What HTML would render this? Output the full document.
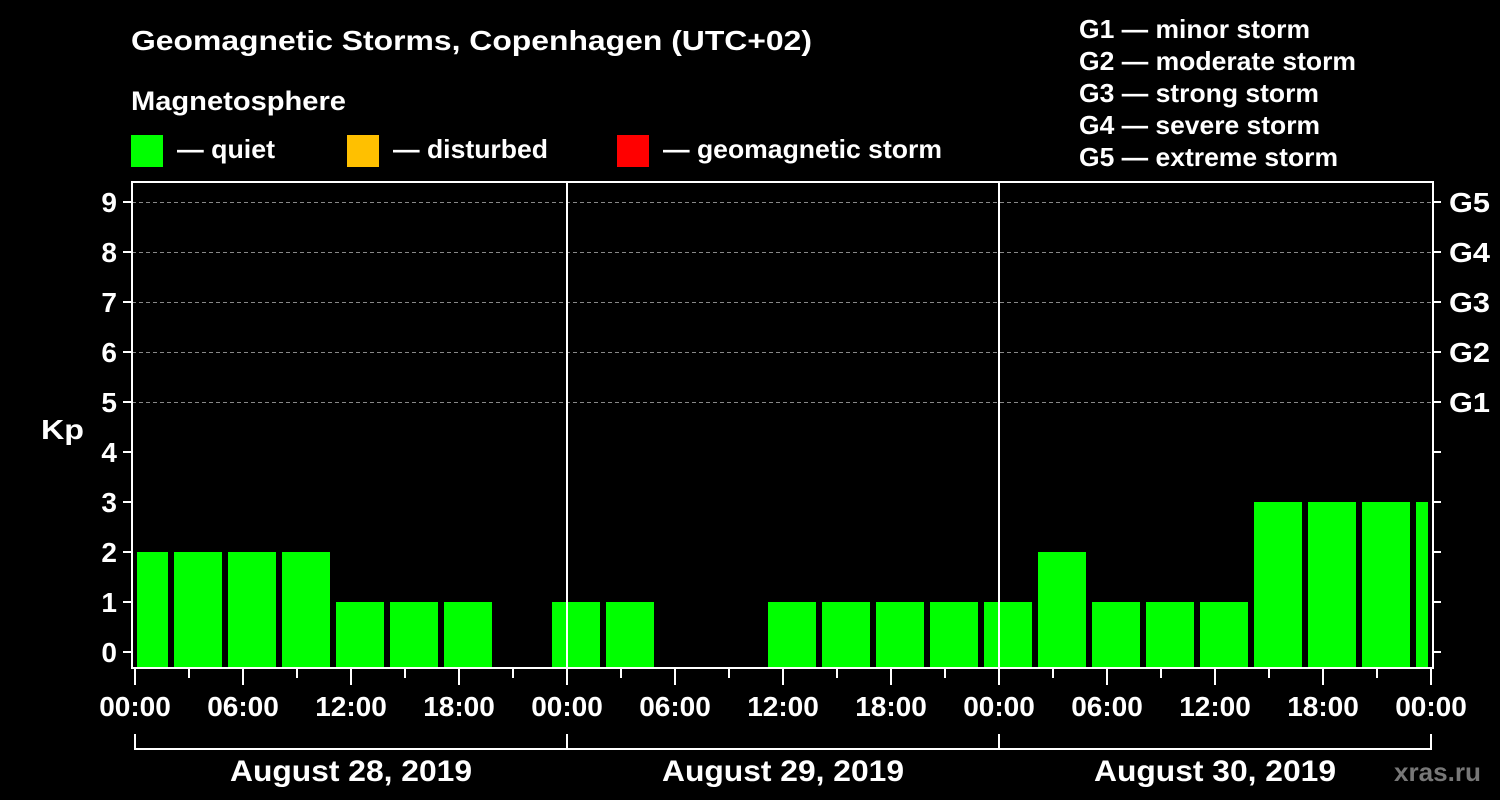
<!DOCTYPE html>
<html><head><meta charset="utf-8"><style>html,body{margin:0;padding:0;background:#000}svg{display:block}</style></head><body>
<svg width="1500" height="800" xmlns="http://www.w3.org/2000/svg" font-family="Liberation Sans, sans-serif" font-weight="bold" fill="#fff">
<rect width="1500" height="800" fill="#000"/>
<text x="131" y="50" font-size="28" textLength="681" lengthAdjust="spacingAndGlyphs">Geomagnetic Storms, Copenhagen (UTC+02)</text>
<text x="131" y="110" font-size="27" textLength="215" lengthAdjust="spacingAndGlyphs">Magnetosphere</text>
<rect x="131" y="135" width="32" height="32" fill="#00ff00"/><text x="177" y="158" font-size="26" textLength="98" lengthAdjust="spacingAndGlyphs">— quiet</text>
<rect x="347" y="135" width="32" height="32" fill="#ffc000"/><text x="393" y="158" font-size="26" textLength="155" lengthAdjust="spacingAndGlyphs">— disturbed</text>
<rect x="617" y="135" width="32" height="32" fill="#ff0000"/><text x="663" y="158" font-size="26" textLength="279" lengthAdjust="spacingAndGlyphs">— geomagnetic storm</text>
<g font-size="26">
<text x="1079" y="38" textLength="231" lengthAdjust="spacingAndGlyphs">G1 — minor storm</text>
<text x="1079" y="70" textLength="277" lengthAdjust="spacingAndGlyphs">G2 — moderate storm</text>
<text x="1079" y="102" textLength="240" lengthAdjust="spacingAndGlyphs">G3 — strong storm</text>
<text x="1079" y="134" textLength="241" lengthAdjust="spacingAndGlyphs">G4 — severe storm</text>
<text x="1079" y="166" textLength="259" lengthAdjust="spacingAndGlyphs">G5 — extreme storm</text>
</g>
<g stroke="#888" stroke-dasharray="4,3" stroke-width="1">
<line x1="132" x2="1432" y1="202.5" y2="202.5"/><line x1="132" x2="1432" y1="252.5" y2="252.5"/><line x1="132" x2="1432" y1="302.5" y2="302.5"/><line x1="132" x2="1432" y1="352.5" y2="352.5"/><line x1="132" x2="1432" y1="402.5" y2="402.5"/>
</g>
<g fill="#00ff00">
<rect x="137" y="552" width="31" height="115"/>
<rect x="174" y="552" width="48" height="115"/>
<rect x="228" y="552" width="48" height="115"/>
<rect x="282" y="552" width="48" height="115"/>
<rect x="336" y="602" width="48" height="65"/>
<rect x="390" y="602" width="48" height="65"/>
<rect x="444" y="602" width="48" height="65"/>
<rect x="552" y="602" width="48" height="65"/>
<rect x="606" y="602" width="48" height="65"/>
<rect x="768" y="602" width="48" height="65"/>
<rect x="822" y="602" width="48" height="65"/>
<rect x="876" y="602" width="48" height="65"/>
<rect x="930" y="602" width="48" height="65"/>
<rect x="984" y="602" width="48" height="65"/>
<rect x="1038" y="552" width="48" height="115"/>
<rect x="1092" y="602" width="48" height="65"/>
<rect x="1146" y="602" width="48" height="65"/>
<rect x="1200" y="602" width="48" height="65"/>
<rect x="1254" y="502" width="48" height="165"/>
<rect x="1308" y="502" width="48" height="165"/>
<rect x="1362" y="502" width="48" height="165"/>
<rect x="1416" y="502" width="12" height="165"/>
</g>
<g stroke="#fff" stroke-width="2" fill="none">
<rect x="132" y="182" width="1301" height="486"/>
<line x1="567" y1="182" x2="567" y2="668"/><line x1="999" y1="182" x2="999" y2="668"/>
</g>
<g stroke="#fff" stroke-width="2">
<line x1="123" x2="132" y1="202" y2="202"/><line x1="123" x2="132" y1="252" y2="252"/><line x1="123" x2="132" y1="302" y2="302"/><line x1="123" x2="132" y1="352" y2="352"/><line x1="123" x2="132" y1="402" y2="402"/><line x1="123" x2="132" y1="452" y2="452"/><line x1="123" x2="132" y1="502" y2="502"/><line x1="123" x2="132" y1="552" y2="552"/><line x1="123" x2="132" y1="602" y2="602"/><line x1="123" x2="132" y1="652" y2="652"/>
<line x1="1433" x2="1441" y1="202" y2="202"/><line x1="1433" x2="1441" y1="252" y2="252"/><line x1="1433" x2="1441" y1="302" y2="302"/><line x1="1433" x2="1441" y1="352" y2="352"/><line x1="1433" x2="1441" y1="402" y2="402"/><line x1="1433" x2="1441" y1="452" y2="452"/><line x1="1433" x2="1441" y1="502" y2="502"/><line x1="1433" x2="1441" y1="552" y2="552"/><line x1="1433" x2="1441" y1="602" y2="602"/><line x1="1433" x2="1441" y1="652" y2="652"/>
<line x1="135" x2="135" y1="668" y2="685"/><line x1="189" x2="189" y1="668" y2="678"/><line x1="243" x2="243" y1="668" y2="685"/><line x1="297" x2="297" y1="668" y2="678"/><line x1="351" x2="351" y1="668" y2="685"/><line x1="405" x2="405" y1="668" y2="678"/><line x1="459" x2="459" y1="668" y2="685"/><line x1="513" x2="513" y1="668" y2="678"/>
<line x1="567" x2="567" y1="668" y2="685"/><line x1="621" x2="621" y1="668" y2="678"/><line x1="675" x2="675" y1="668" y2="685"/><line x1="729" x2="729" y1="668" y2="678"/><line x1="783" x2="783" y1="668" y2="685"/><line x1="837" x2="837" y1="668" y2="678"/><line x1="891" x2="891" y1="668" y2="685"/><line x1="945" x2="945" y1="668" y2="678"/>
<line x1="999" x2="999" y1="668" y2="685"/><line x1="1053" x2="1053" y1="668" y2="678"/><line x1="1107" x2="1107" y1="668" y2="685"/><line x1="1161" x2="1161" y1="668" y2="678"/><line x1="1215" x2="1215" y1="668" y2="685"/><line x1="1269" x2="1269" y1="668" y2="678"/><line x1="1323" x2="1323" y1="668" y2="685"/><line x1="1377" x2="1377" y1="668" y2="678"/><line x1="1431" x2="1431" y1="668" y2="685"/>
<polyline fill="none" points="135,734 135,749 1431,749 1431,734"/>
<line x1="567" x2="567" y1="734" y2="749"/><line x1="999" x2="999" y1="734" y2="749"/>
</g>
<g font-size="28" text-anchor="end">
<text x="117" y="212">9</text><text x="117" y="262">8</text><text x="117" y="312">7</text><text x="117" y="362">6</text><text x="117" y="412">5</text><text x="117" y="462">4</text><text x="117" y="512">3</text><text x="117" y="562">2</text><text x="117" y="612">1</text><text x="117" y="662">0</text>
</g>
<text x="41" y="439" font-size="28" textLength="43" lengthAdjust="spacingAndGlyphs">Kp</text>
<g font-size="28">
<text x="1449" y="212" textLength="41" lengthAdjust="spacingAndGlyphs">G5</text><text x="1449" y="262" textLength="41" lengthAdjust="spacingAndGlyphs">G4</text><text x="1449" y="312" textLength="41" lengthAdjust="spacingAndGlyphs">G3</text><text x="1449" y="362" textLength="41" lengthAdjust="spacingAndGlyphs">G2</text><text x="1449" y="412" textLength="41" lengthAdjust="spacingAndGlyphs">G1</text>
</g>
<g font-size="28" text-anchor="middle">
<text x="135" y="716">00:00</text><text x="243" y="716">06:00</text><text x="351" y="716">12:00</text><text x="459" y="716">18:00</text>
<text x="567" y="716">00:00</text><text x="675" y="716">06:00</text><text x="783" y="716">12:00</text><text x="891" y="716">18:00</text>
<text x="999" y="716">00:00</text><text x="1107" y="716">06:00</text><text x="1215" y="716">12:00</text><text x="1323" y="716">18:00</text><text x="1431" y="716">00:00</text>
<text x="351" y="781" font-size="30" textLength="242" lengthAdjust="spacingAndGlyphs">August 28, 2019</text>
<text x="783" y="781" font-size="30" textLength="242" lengthAdjust="spacingAndGlyphs">August 29, 2019</text>
<text x="1215" y="781" font-size="30" textLength="242" lengthAdjust="spacingAndGlyphs">August 30, 2019</text>
</g>
<text x="1394" y="781" font-size="26" fill="#777" textLength="87" lengthAdjust="spacingAndGlyphs">xras.ru</text>
</svg>
</body></html>
